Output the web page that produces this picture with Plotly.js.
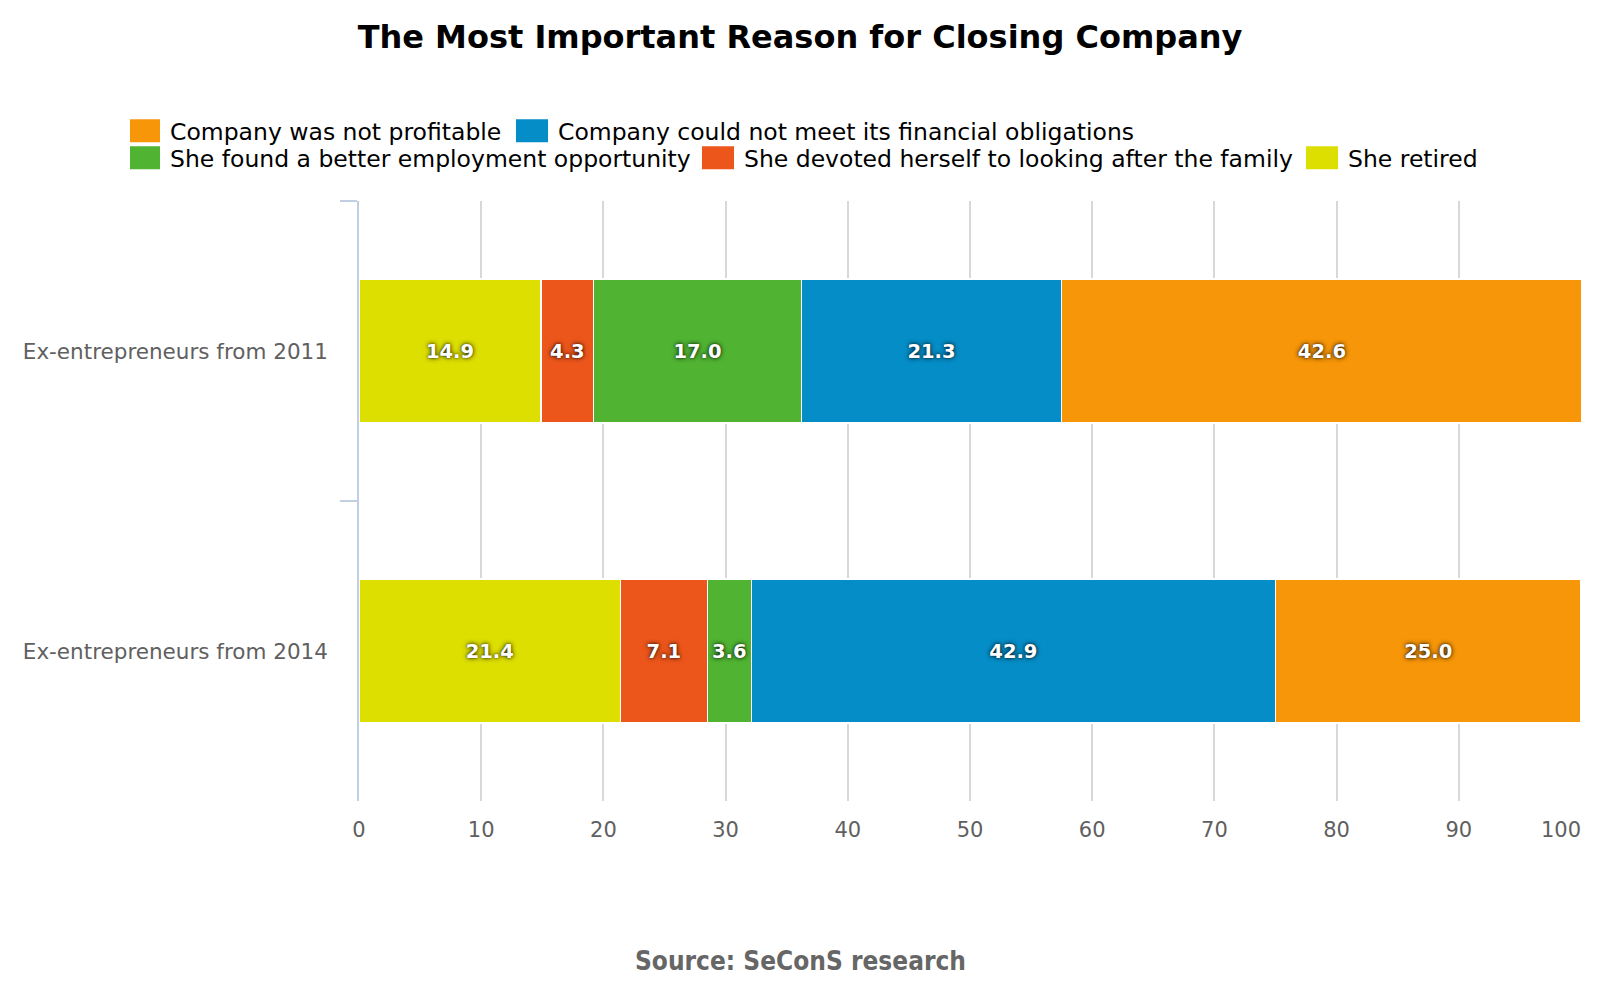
<!DOCTYPE html>
<html>
<head>
<meta charset="utf-8">
<script src="https://cdn.plot.ly/plotly-3.0.1.min.js"></script>
<style>html,body{margin:0;padding:0;background:#fff;}#chart{width:1600px;height:1000px;}</style>
</head>
<body>
<div id="chart"></div>
<script>
const categories = ['Ex-entrepreneurs from 2011', 'Ex-entrepreneurs from 2014'];
const seriesNames = [
  'She retired',
  'She devoted herself to looking after the family',
  'She found a better employment opportunity',
  'Company could not meet its financial obligations',
  'Company was not profitable'
];
const retired = [14.9, 21.4];
const devoted = [4.3, 7.1];
const betterJob = [17.0, 3.6];
const financial = [21.3, 42.9];
const notProfitable = [42.6, 25.0];
const seriesValues = [retired, devoted, betterJob, financial, notProfitable];
const xTicks = [0, 10, 20, 30, 40, 50, 60, 70, 80, 90, 100];

// styles
const seriesColors = ['#DDDF00', '#ED561B', '#50B432', '#058DC7', '#F79608'];
const legendRow = ['legend2', 'legend2', 'legend2', 'legend', 'legend'];
const legendEntryWidths = [undefined, 559, 529, undefined, 343];

const FONT = 'DejaVu Sans, Verdana, sans-serif';

const traces = seriesNames.map((name, i) => {
  const t = {
    type: 'bar',
    orientation: 'h',
    name: name,
    legend: legendRow[i],
    y: categories,
    x: seriesValues[i],
    marker: {color: seriesColors[i], line: {color: '#ffffff', width: 1.5}},
    texttemplate: '%{x:.1f}',
    textposition: 'inside',
    insidetextanchor: 'middle',
    constraintext: 'none',
    textangle: 0,
    textfont: {family: FONT, size: 19.5, color: '#ffffff', weight: 'bold',
               shadow: '0px 0px 5px rgba(0,0,0,0.85), 0px 0px 2px rgba(0,0,0,0.5)'},
    hoverinfo: 'name+x'
  };
  if (legendEntryWidths[i] !== undefined) t.legendwidth = legendEntryWidths[i];
  return t;
});

// empty helper trace so the overlaid axis carrying the last tick label is drawn
traces.push({type: 'scatter', mode: 'markers', x: [], y: [], xaxis: 'x2', yaxis: 'y',
             showlegend: false, hoverinfo: 'skip'});

const legendCommon = {
  orientation: 'h',
  traceorder: 'reversed',
  xref: 'paper', xanchor: 'left',
  yref: 'paper', yanchor: 'top',
  font: {family: FONT, size: 23.5, color: '#000000'},
  bgcolor: 'rgba(0,0,0,0)',
  itemclick: false, itemdoubleclick: false
};

// all tick labels except the last are centred on their gridline;
// the last one ("100") is right-aligned by an overlaid axis so it stays inside the chart
const lastTick = xTicks[xTicks.length - 1];
const mainTickText = xTicks.map(v => v === lastTick ? '' : String(v));
const tickFont = {family: FONT, size: 21, color: '#606060'};

const layout = {
  width: 1600,
  height: 1000,
  paper_bgcolor: '#ffffff',
  plot_bgcolor: '#ffffff',
  font: {family: FONT, color: '#333333'},
  margin: {l: 359, r: 19, t: 201, b: 199, autoexpand: false},
  barmode: 'stack',
  bargap: 0.52,
  title: {
    text: 'The Most Important Reason for Closing Company',
    font: {family: FONT, size: 32, color: '#000000', weight: 'bold'},
    x: 0.5, xref: 'container', xanchor: 'center',
    y: 0.963, yref: 'container', yanchor: 'middle'
  },
  showlegend: true,
  legend: Object.assign({}, legendCommon, {x: (130 - 359) / 1222, y: (801 - 109) / 600}),
  legend2: Object.assign({}, legendCommon, {x: (130 - 359) / 1222, y: (801 - 136) / 600}),
  xaxis: {
    range: [0, 100],
    tickvals: xTicks,
    ticktext: mainTickText,
    showgrid: true,
    gridcolor: '#d8d8d8',
    gridwidth: 1.5,
    zeroline: false,
    showline: false,
    ticks: '',
    ticklabelstandoff: 14,
    tickfont: tickFont,
    fixedrange: true
  },
  xaxis2: {
    overlaying: 'x',
    anchor: 'y',
    side: 'bottom',
    range: [0, 100],
    tickvals: [lastTick],
    ticktext: [String(lastTick)],
    ticklabelposition: 'outside left',
    ticklabeloverflow: 'allow',
    showgrid: false,
    zeroline: false,
    showline: false,
    ticks: '',
    ticklabelstandoff: 14,
    tickfont: tickFont,
    fixedrange: true
  },
  yaxis: {
    type: 'category',
    autorange: 'reversed',
    showgrid: false,
    zeroline: false,
    showline: true,
    linecolor: '#C0D0E0',
    linewidth: 1.5,
    ticks: 'outside',
    tickson: 'boundaries',
    ticklen: 17,
    tickcolor: '#C0D0E0',
    tickwidth: 1.5,
    ticklabelstandoff: 25,
    tickfont: {family: FONT, size: 21.5, color: '#606060'},
    fixedrange: true
  },
  annotations: [{
    text: 'Source: SeConS research',
    xref: 'paper', yref: 'paper',
    x: (800 - 359) / 1222, y: (801 - 961) / 600,
    xanchor: 'center', yanchor: 'middle',
    showarrow: false,
    font: {family: 'DejaVu Sans Condensed, DejaVu Sans, sans-serif', size: 26, color: '#666666', weight: 'bold'}
  }]
};

Plotly.newPlot('chart', traces, layout, {displayModeBar: false, responsive: false}).then(gd => {
  // reshape legend colour swatches to the reference's wider rectangles
  gd.querySelectorAll('.legendpoints path').forEach(p => {
    p.setAttribute('transform', 'translate(14,0) scale(2.67,1.92)');
    p.style.strokeWidth = '0px';
  });
});
</script>
</body>
</html>
